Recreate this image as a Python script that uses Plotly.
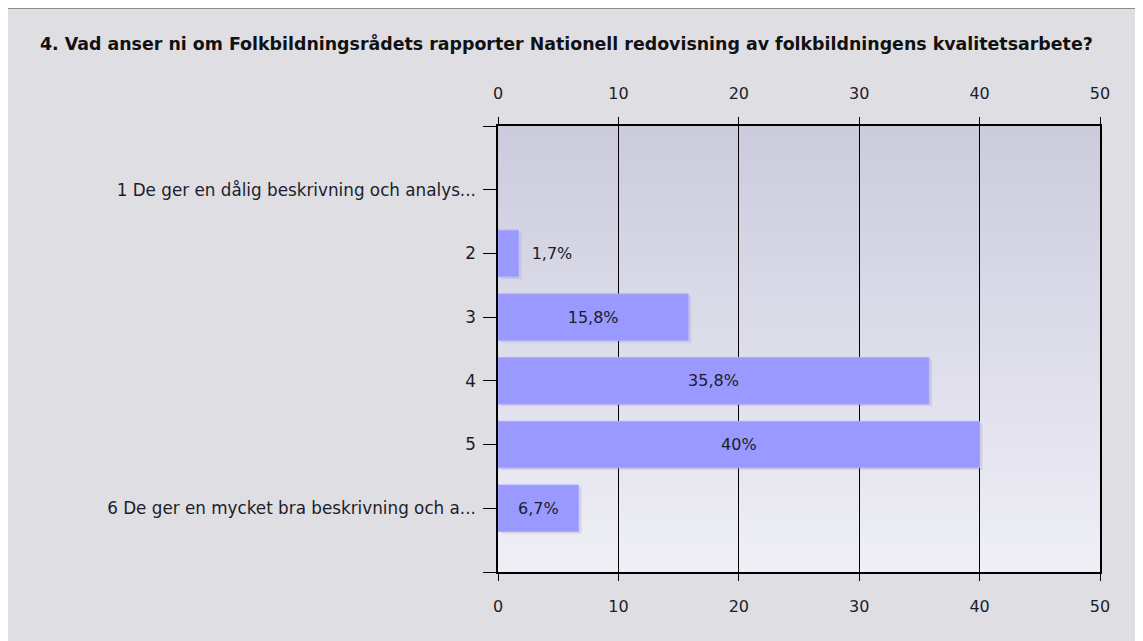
import base64
import plotly.graph_objects as go

# survey answers (percent)
categories = [
    "1 De ger en dålig beskrivning och analys...",
    "2",
    "3",
    "4",
    "5",
    "6 De ger en mycket bra beskrivning och a...",
]
values = [0, 1.7, 15.8, 35.8, 40, 6.7]
x_ticks = [0, 10, 20, 30, 40, 50]

title = ("4. Vad anser ni om Folkbildningsrådets rapporter Nationell "
         "redovisning av folkbildningens kvalitetsarbete?")

FONT = "DejaVu Sans"
TXT = "#1c1c2c"
BAR = "#9999FF"

pos = list(range(len(categories)))
labels = [("" if v == 0 else f"{v:g}".replace(".", ",") + "%") for v in values]
textpos = ["none" if v == 0 else ("outside" if v < 4 else "inside") for v in values]
# small gap before labels that sit outside the bar
labels = [("\u00a0\u00a0" + t if p == "outside" else t) for t, p in zip(labels, textpos)]
edge_w = [0 if v == 0 else 1 for v in values]

# vertical gradient for the plot area, as an svg image
svg = ('<svg xmlns="http://www.w3.org/2000/svg" width="10" height="100" preserveAspectRatio="none">'
       '<defs><linearGradient id="g" x1="0" y1="0" x2="0" y2="1">'
       '<stop offset="0" stop-color="#CCCBDD"/><stop offset="1" stop-color="#EFEFF7"/>'
       '</linearGradient></defs><rect width="10" height="100" fill="url(#g)"/></svg>')
grad_src = "data:image/svg+xml;base64," + base64.b64encode(svg.encode()).decode()

fig = go.Figure()

# soft shadow behind bars
fig.add_trace(go.Bar(
    y=pos, x=values, base=0.25, orientation="h",
    width=0.73, offset=-0.33,
    marker=dict(color="rgba(120,120,135,0.16)", line=dict(width=0)),
    hoverinfo="skip", showlegend=False,
))

fig.add_trace(go.Bar(
    y=pos, x=values, orientation="h",
    width=0.73, offset=-0.365,
    marker=dict(color=BAR, line=dict(color="#A8A8FF", width=edge_w)),
    text=labels, textposition=textpos, insidetextanchor="middle",
    constraintext="none", cliponaxis=False,
    textfont=dict(family=FONT, size=16, color=TXT),
    showlegend=False,
))

# dummy trace so the top axis gets drawn
fig.add_trace(go.Scatter(x=[0], y=[0], xaxis="x2", mode="markers",
                         marker=dict(opacity=0), hoverinfo="skip", showlegend=False))

fig.update_layout(
    width=1143, height=641,
    margin=dict(l=490, r=51, t=118, b=77),
    paper_bgcolor="white",
    plot_bgcolor="rgba(0,0,0,0)",
    barmode="overlay",
    font=dict(family=FONT, size=16, color=TXT),
    xaxis=dict(
        range=[0, 50], tickvals=x_ticks, ticks="outside", ticklen=7,
        tickcolor="black", showline=True, linecolor="black", linewidth=1.5,
        mirror="allticks", showgrid=True, gridcolor="black", gridwidth=1.2,
        zeroline=False, tickfont=dict(size=16, color=TXT), fixedrange=True,
        ticklabelstandoff=12,
    ),
    xaxis2=dict(
        overlaying="x", side="top", matches="x", range=[0, 50],
        tickvals=x_ticks, ticks="outside", ticklen=7, tickcolor="rgba(0,0,0,0)",
        showgrid=False, showline=False, ticklabelstandoff=13,
        zeroline=False, tickfont=dict(size=16, color=TXT),
    ),
    yaxis=dict(
        range=[6, -1], tickmode="array",
        tickvals=[-1] + pos + [6], ticktext=[""] + categories + [""],
        ticks="outside", ticklen=13, tickcolor="black",
        showline=True, linecolor="black", linewidth=1.5, mirror=True,
        showgrid=False, zeroline=False, ticklabelstandoff=4,
        tickfont=dict(size=16.8, color=TXT), fixedrange=True,
    ),
    images=[dict(
        source=grad_src, xref="x domain", yref="y domain",
        x=0, y=1, sizex=1, sizey=1, sizing="stretch",
        xanchor="left", yanchor="top", layer="below",
    )],
    shapes=[dict(
        type="rect", xref="paper", yref="paper", layer="below",
        x0=-492 / 602, x1=1.2, y0=-0.3, y1=1 + 118 / 446,
        fillcolor="#DFDEE3", line=dict(color="#8C8C8C", width=2),
    )],
    annotations=[dict(
        text="<b>" + title + "</b>", xref="paper", yref="paper",
        x=-460 / 602, y=1 + 83 / 446, xanchor="left", yanchor="middle",
        showarrow=False, font=dict(family=FONT, size=17.4, color="#111"),
    )],
)

fig.write_html("out.html")
